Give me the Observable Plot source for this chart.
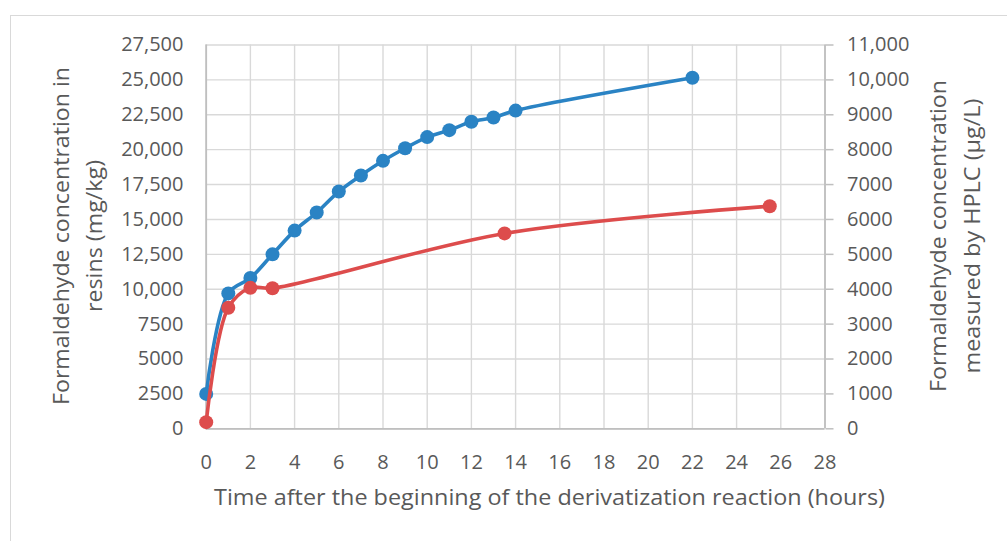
<!DOCTYPE html>
<html>
<head>
<meta charset="utf-8">
<script src="https://cdn.jsdelivr.net/npm/d3@7"></script>
<script src="https://cdn.jsdelivr.net/npm/@observablehq/plot@0.6"></script>
<style>
  html, body { margin: 0; padding: 0; background: #fff; }
  #wrap { position: relative; width: 1007px; height: 541px; overflow: hidden; }
  #border { position: absolute; left: 10px; top: 15px; width: 1100px; height: 600px; border: 1.5px solid #d9d9d9; box-sizing: border-box; }
  #wrap svg { position: absolute; left: 0; top: 0; }
</style>
</head>
<body>
<div id="wrap"><div id="border"></div></div>
<script>
// Blue series: formaldehyde in resins (mg/kg), left axis
const blueHours = [0, 1, 2, 3, 4, 5, 6, 7, 8, 9, 10, 11, 12, 13, 14, 22];
const blueValues = [2500, 9700, 10800, 12500, 14200, 15500, 17000, 18150, 19200, 20100, 20900, 21400, 22000, 22300, 22800, 25150];
// Red series: measured by HPLC (µg/L), right axis
const redHours = [0, 1, 2, 3, 13.5, 25.5];
const redValues = [190, 3470, 4040, 4030, 5600, 6380];

const xTicks = [0, 2, 4, 6, 8, 10, 12, 14, 16, 18, 20, 22, 24, 26, 28];
const leftTicks = [0, 2500, 5000, 7500, 10000, 12500, 15000, 17500, 20000, 22500, 25000, 27500];
const rightTicks = [0, 1000, 2000, 3000, 4000, 5000, 6000, 7000, 8000, 9000, 10000, 11000];

const xTitle = "Time after the beginning of the derivatization reaction (hours)";
const leftTitle = ["Formaldehyde concentration in", "resins (mg/kg)"];
const rightTitle = ["Formaldehyde concentration", "measured by HPLC (µg/L)"];

const leftMax = 27500, rightMax = 11000;
const ratio = leftMax / rightMax;

const blue = blueHours.map((h, i) => ({h, v: blueValues[i]}));
const red = redHours.map((h, i) => ({h, v: redValues[i]}));

const fmt = d => d >= 10000 ? d3.format(",")(d) : String(d);

const textColor = "#595959";
const gridColor = "#d9d9d9";
const axisColor = "#bfbfbf";
const blueColor = "#2a83c4";
const redColor = "#dd4c4c";

const ml = 205.7, mr = 182.5, mt = 44.5, mb = 112.7;

const chart = Plot.plot({
  width: 1007,
  height: 541,
  marginLeft: ml,
  marginRight: mr,
  marginTop: mt,
  marginBottom: mb,
  style: {fontFamily: "'Open Sans', sans-serif", fontSize: "20px", background: "transparent", overflow: "visible"},
  x: {domain: [0, 28]},
  y: {domain: [0, leftMax]},
  marks: [
    Plot.gridX(xTicks, {stroke: gridColor, strokeOpacity: 1, strokeWidth: 1.4}),
    Plot.gridY(leftTicks, {stroke: gridColor, strokeOpacity: 1, strokeWidth: 1.4}),
    Plot.ruleX([0, 28], {stroke: axisColor, strokeWidth: 1.8}),
    Plot.ruleY([0], {stroke: axisColor, strokeWidth: 1.8}),
    Plot.axisX(xTicks, {tickSize: 0, tickPadding: 26, fill: textColor, fontSize: 20, label: null}),
    Plot.axisY(leftTicks, {anchor: "left", tickSize: 0, tickPadding: 22.7, tickFormat: fmt, fill: textColor, fontSize: 20, label: null}),
    Plot.axisY(rightTicks.map(t => t * ratio), {anchor: "right", tickSize: 8, tickPadding: 14, stroke: axisColor, strokeWidth: 1.5, tickFormat: d => fmt(Math.round(d / ratio)), fill: textColor, fontSize: 20, label: null}),
    Plot.line(blue, {x: "h", y: "v", stroke: blueColor, strokeWidth: 3.6, curve: "catmull-rom"}),
    Plot.dot(blue, {x: "h", y: "v", r: 7, fill: blueColor}),
    Plot.line(red, {x: "h", y: d => d.v * ratio, stroke: redColor, strokeWidth: 3.6, curve: "catmull-rom"}),
    Plot.dot(red, {x: "h", y: d => d.v * ratio, r: 7, fill: redColor})
  ]
});

const svg = d3.select(chart);
const cy = 236;
const addText = (x, y, rotate, str, len) => {
  svg.append("text")
    .attr("transform", `translate(${x},${y})` + (rotate ? " rotate(-90)" : ""))
    .attr("text-anchor", "middle").attr("dy", "0.35em")
    .attr("fill", textColor).attr("font-size", 21)
    .attr("textLength", len).attr("lengthAdjust", "spacingAndGlyphs")
    .text(str);
};
// x-axis title
addText(549.5, 498, false, xTitle, 671);
// left title (two lines)
addText(62, cy, true, leftTitle[0], 338);
addText(95, cy, true, leftTitle[1], 152);
// right title (two lines)
addText(939, cy, true, rightTitle[0], 312);
addText(973, cy, true, rightTitle[1], 275);

document.getElementById("wrap").appendChild(chart);
</script>
</body>
</html>
